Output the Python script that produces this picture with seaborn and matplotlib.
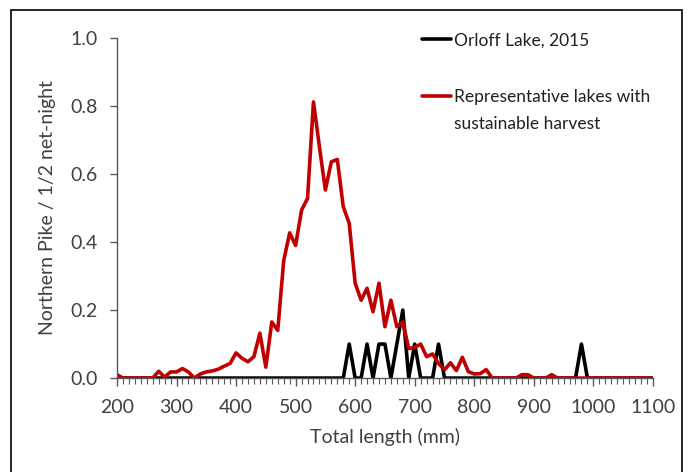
import numpy as np
import pandas as pd
import matplotlib
matplotlib.use("Agg")
import matplotlib.pyplot as plt
from matplotlib.patches import Rectangle
from matplotlib.ticker import MultipleLocator
from matplotlib.offsetbox import TextArea
import seaborn as sns

# ---- data ----
lengths = list(range(200, 1101, 10))

representative = [
    0.010, 0.0, 0.0, 0.0, 0.0, 0.0, 0.0, 0.020, 0.003, 0.018,   # 200-290
    0.018, 0.028, 0.018, 0.0, 0.012, 0.018, 0.021, 0.026, 0.035, 0.043,  # 300-390
    0.074, 0.058, 0.048, 0.063, 0.132, 0.032, 0.165, 0.140, 0.345, 0.427,  # 400-490
    0.390, 0.494, 0.528, 0.812, 0.680, 0.553, 0.636, 0.643, 0.504, 0.455,  # 500-590
    0.279, 0.229, 0.264, 0.195, 0.279, 0.151, 0.229, 0.151, 0.165, 0.087,  # 600-690
    0.090, 0.100, 0.063, 0.071, 0.043, 0.024, 0.045, 0.022, 0.061, 0.019,  # 700-790
    0.012, 0.013, 0.025, 0.0, 0.0, 0.0, 0.0, 0.0, 0.010, 0.010,   # 800-890
    0.0, 0.0, 0.0, 0.010, 0.0, 0.0, 0.0, 0.0, 0.0, 0.0,   # 900-990
    0.0, 0.0, 0.0, 0.0, 0.0, 0.0, 0.0, 0.0, 0.0, 0.0,   # 1000-1090
    0.0,   # 1100
]

orloff = [
    0.0, 0.0, 0.0, 0.0, 0.0, 0.0, 0.0, 0.0, 0.0, 0.0,   # 200-290
    0.0, 0.0, 0.0, 0.0, 0.0, 0.0, 0.0, 0.0, 0.0, 0.0,   # 300-390
    0.0, 0.0, 0.0, 0.0, 0.0, 0.0, 0.0, 0.0, 0.0, 0.0,   # 400-490
    0.0, 0.0, 0.0, 0.0, 0.0, 0.0, 0.0, 0.0, 0.0, 0.1,   # 500-590
    0.0, 0.0, 0.1, 0.0, 0.1, 0.1, 0.0, 0.1, 0.2, 0.0,   # 600-690
    0.1, 0.0, 0.0, 0.0, 0.1, 0.0, 0.0, 0.0, 0.0, 0.0,   # 700-790
    0.0, 0.0, 0.0, 0.0, 0.0, 0.0, 0.0, 0.0, 0.0, 0.0,   # 800-890
    0.0, 0.0, 0.0, 0.0, 0.0, 0.0, 0.0, 0.0, 0.1, 0.0,   # 900-990
    0.0, 0.0, 0.0, 0.0, 0.0, 0.0, 0.0, 0.0, 0.0, 0.0,   # 1000-1090
    0.0,   # 1100
]

series_names = ["Orloff Lake, 2015", "Representative lakes with\nsustainable harvest"]
series_colors = ["#000000", "#C00000"]
x_ticks = list(range(200, 1101, 100))
y_ticks = [0.0, 0.2, 0.4, 0.6, 0.8, 1.0]

df = pd.DataFrame({
    "length": lengths * 2,
    "value": orloff + representative,
    "series": [series_names[0]] * len(lengths) + [series_names[1]] * len(lengths),
})

# ---- style ----
sns.set_style("ticks")
plt.rcParams["font.family"] = ["Lato", "DejaVu Sans"]
text_color = "#404040"
fs = 14
lfs = 12.5

fig = plt.figure(figsize=(6.88, 4.72), dpi=100)
ax = fig.add_axes([0.170, 0.199, 0.779, 0.7205])

sns.lineplot(data=df, x="length", y="value", hue="series",
             palette=dict(zip(series_names, series_colors)),
             hue_order=series_names, linewidth=2.6, ax=ax,
             estimator=None, sort=False)

ax.set_xlim(200, 1100)
ax.set_ylim(0, 1.0)
ax.set_xticks(x_ticks)
ax.set_yticks(y_ticks)
ax.set_yticklabels([f"{v:.1f}" for v in y_ticks])
ax.xaxis.set_minor_locator(MultipleLocator(10))

for s in ["top", "right"]:
    ax.spines[s].set_visible(False)
for s in ["left", "bottom"]:
    ax.spines[s].set_color("#595959")
    ax.spines[s].set_linewidth(1.0)

ax.tick_params(axis="both", which="major", labelsize=fs, colors="#595959",
               labelcolor=text_color, width=1.0, direction="out")
ax.tick_params(axis="y", which="major", length=5, pad=9)
ax.tick_params(axis="x", which="major", length=6, pad=9)
ax.tick_params(axis="x", which="minor", length=4, width=0.8, colors="#595959")

ax.set_xlabel("Total length (mm)", fontsize=fs, color=text_color, labelpad=9)
ax.set_ylabel("Northern Pike / 1/2 net-night", fontsize=fs, color=text_color, labelpad=10)

leg = ax.legend(loc="upper left", bbox_to_anchor=(0.57, 1.017), frameon=False,
                fontsize=lfs, handlelength=1.62, handletextpad=0.17,
                labelspacing=2.35, borderpad=0, borderaxespad=0)
for ta in leg.findobj(TextArea):
    ta.set_multilinebaseline(False)
texts = leg.get_texts()
for t in texts:
    t.set_color("#202020")
    t.set_linespacing(1.85)
lines = leg.get_lines()
for l in lines:
    l.set_linewidth(2.6)

# align the multi-line entry's handle with its first text line
fig.canvas.draw()
r = fig.canvas.get_renderer()
h1 = texts[0].get_window_extent(r).height
h2 = texts[1].get_window_extent(r).height
step_pt = (h2 - h1) * 72.0 / fig.dpi
yd = np.asarray(lines[1].get_ydata(), dtype=float)
lines[1].set_ydata(yd + step_pt)

# figure border (open at bottom)
fig.patches.append(Rectangle((0.016, -0.1), 0.975, 1.079, transform=fig.transFigure,
                             fill=False, edgecolor="black", linewidth=1.2))

fig.savefig("out.png", dpi=100)
